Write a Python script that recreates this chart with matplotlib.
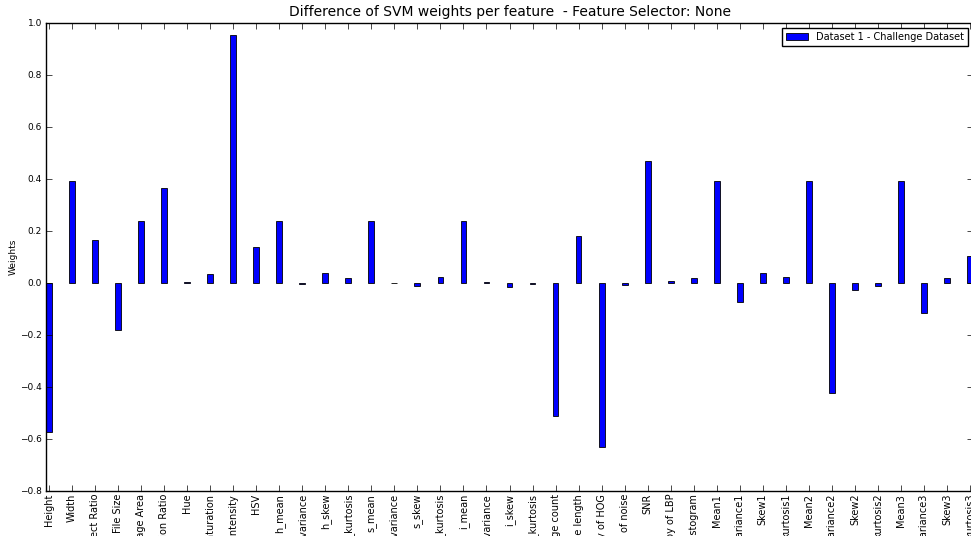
import matplotlib
matplotlib.use("Agg")
import matplotlib.pyplot as plt
import numpy as np

plt.style.use("classic")

# feature names and weight differences
features = ["Height", "Width", "Aspect Ratio", "File Size", "Image Area",
            "Dimension Ratio", "Hue", "Saturation", "Intensity", "HSV",
            "h_mean", "h_variance", "h_skew", "h_kurtosis",
            "s_mean", "s_variance", "s_skew", "s_kurtosis",
            "i_mean", "i_variance", "i_skew", "i_kurtosis",
            "Edge count", "Edge length", "Entropy of HOG", "Entropy of noise",
            "SNR", "Entropy of LBP", "Color histogram",
            "Mean1", "Variance1", "Skew1", "kurtosis1",
            "Mean2", "Variance2", "Skew2", "kurtosis2",
            "Mean3", "Variance3", "Skew3", "kurtosis3"]

weights = [-0.572, 0.392, 0.164, -0.179, 0.237,
           0.367, 0.004, 0.033, 0.952, 0.139,
           0.237, -0.002, 0.038, 0.020,
           0.237, -0.001, -0.010, 0.025,
           0.237, 0.005, -0.017, -0.002,
           -0.511, 0.180, -0.629, -0.006,
           0.469, 0.007, 0.020,
           0.393, -0.074, 0.038, 0.024,
           0.393, -0.423, -0.028, -0.013,
           0.393, -0.116, 0.020, 0.104]

series_name = "Dataset 1 - Challenge Dataset"

fig = plt.figure(figsize=(9.71, 5.36), dpi=100, facecolor="white")
ax = fig.add_axes([46 / 971, 45 / 536, 927 / 971, 468 / 536])

x = np.arange(len(features))
ax.bar(x, weights, width=0.25, align="center", color="#0000ff",
       edgecolor="black", linewidth=0.6, label=series_name)

ax.set_xlim(-0.125, len(features) - 1 + 0.125)
ax.set_ylim(-0.8, 1.0)
ax.set_yticks(np.arange(-0.8, 1.01, 0.2))
ax.set_xticks(x)
ax.set_xticklabels(features, rotation=90, fontsize=7)
ax.tick_params(axis="x", pad=2)
ax.tick_params(axis="y", labelsize=6.5, pad=3)
ax.set_ylabel("Weights", fontsize=6.5)
ax.yaxis.set_label_coords(-0.031, 0.5)
ax.set_title("Difference of SVM weights per feature  - Feature Selector: None",
             fontsize=10)
ax.legend(loc="upper right", fontsize=7, handlelength=2.3)

fig.savefig("out.png", dpi=100, facecolor="white")
